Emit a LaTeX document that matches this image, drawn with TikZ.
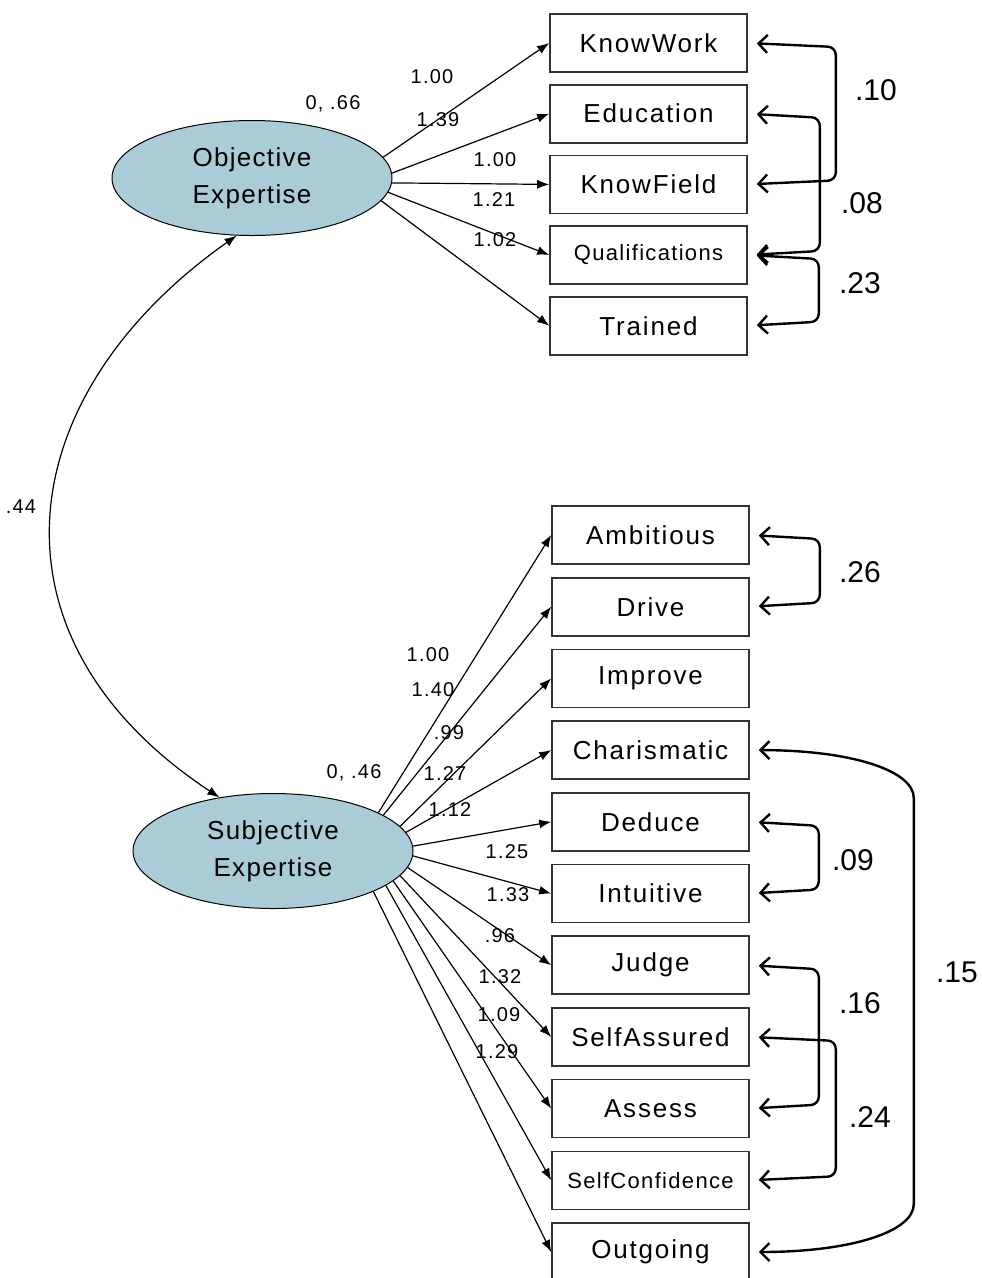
\documentclass[tikz,border=0pt]{standalone}
\usepackage{fontspec}
\setmainfont{Liberation Sans}
\usetikzlibrary{shapes.geometric,arrows.meta,calc}

\definecolor{latfill}{HTML}{A9CCD6}
\definecolor{boxline}{HTML}{333333}

\begin{document}
\begin{tikzpicture}[x=1pt,y=-1pt,
  latent/.style={ellipse, draw=black, line width=1pt, fill=latfill,
    minimum width=280pt, minimum height=115pt, inner sep=0pt, align=center,
    font=\fontsize{26}{37}\selectfont\addfontfeature{LetterSpace=5}},
  obs/.style={rectangle, draw=boxline, line width=1.6pt, fill=white,
    minimum width=197pt, minimum height=58pt, inner sep=0pt,
    font=\fontsize{26}{30}\selectfont\addfontfeature{LetterSpace=7}},
  smalltext/.style={font=\fontsize{22}{26}\selectfont\addfontfeature{LetterSpace=6}},
  load/.style={line width=1.2pt, -{Latex[length=12pt,width=9pt]}},
  cov/.style={line width=2.4pt, rounded corners=8pt,
    {Straight Barb[length=9pt,width=18pt]}-{Straight Barb[length=9pt,width=18pt]},
    shorten <=9pt, shorten >=9pt},
  coef/.style={font=\fontsize{20}{22}\selectfont\addfontfeature{LetterSpace=6}, inner sep=0pt},
  corr/.style={font=\fontsize{30}{32}\selectfont, inner sep=0pt}
]
\useasboundingbox[fill=white] (0,0) rectangle (982,1278);

% latent factors
\node[latent] (obj)  at (252,178) {Objective\\Expertise};
\node[latent] (subj) at (273,851) {Subjective\\Expertise};

% indicators of objective expertise
\node[obs] (KnowWork) at (648.5,43)   {KnowWork};
\node[obs] (Education) at (648.5,113.7) {Education};
\node[obs] (KnowField) at (648.5,184.4) {KnowField};
\node[obs,smalltext] (Qualifications) at (648.5,255) {Qualifications};
\node[obs] (Trained) at (648.5,325.7) {Trained};

% indicators of subjective expertise
\node[obs] (Ambitious)   at (650.5,535)    {Ambitious};
\node[obs] (Drive)       at (650.5,606.7)  {Drive};
\node[obs] (Improve)     at (650.5,678.4)  {Improve};
\node[obs] (Charismatic) at (650.5,750.1)  {Charismatic};
\node[obs] (Deduce)      at (650.5,821.8)  {Deduce};
\node[obs] (Intuitive)   at (650.5,893.5)  {Intuitive};
\node[obs] (Judge)       at (650.5,965.2)  {Judge};
\node[obs] (SelfAssured) at (650.5,1036.9) {SelfAssured};
\node[obs] (Assess)      at (650.5,1108.6) {Assess};
\node[obs,smalltext] (SelfConfidence) at (650.5,1180.3) {SelfConfidence};
\node[obs] (Outgoing)    at (650.5,1252)   {Outgoing};

% factor loadings
\draw[load] (obj.9)    -- (KnowWork.west);
\draw[load] (obj.2)    -- (Education.west);
\draw[load] (obj.-2.5) -- (KnowField.west);
\draw[load] (obj.-6)   -- (Qualifications.west);
\draw[load] (obj.-10)  -- (Trained.west);

\draw[load] (subj.20.5)  -- (Ambitious.west);
\draw[load] (subj.18.7)  -- (Drive.west);
\draw[load] (subj.11)    -- (Improve.west);
\draw[load] (subj.8)     -- (Charismatic.west);
\draw[load] (subj.2)     -- (Deduce.west);
\draw[load] (subj.-2.5)  -- (Intuitive.west);
\draw[load] (subj.-7.6)  -- (Judge.west);
\draw[load] (subj.-11)   -- (SelfAssured.west);
\draw[load] (subj.-14.5) -- (Assess.west);
\draw[load] (subj.-17.8) -- (SelfConfidence.west);
\draw[load] (subj.-22.3) -- (Outgoing.west);

% factor covariance
\draw[line width=1.2pt, {Latex[length=12pt,width=9pt]}-{Latex[length=12pt,width=9pt]}]
  (subj.135) .. controls (-22,638) and (9,396) .. (obj.-105);
\node[coef] (c44) at (21,507) {.44};

% loading and variance labels
\node[coef] (v66) at (333,104) {0, .66};
\node[coef] (l1) at (432,77)  {1.00};
\node[coef] (l2) at (438,120) {1.39};
\node[coef] (l3) at (495,160) {1.00};
\node[coef] (l4) at (494,200) {1.21};
\node[coef] (l5) at (495,240) {1.02};

\node[coef] (v46) at (354,773) {0, .46};
\node[coef] (m1)  at (428,655)  {1.00};
\node[coef] (m2)  at (433,690)  {1.40};
\node[coef] (m3)  at (449,733)  {.99};
\node[coef] (m4)  at (445,774)  {1.27};
\node[coef] (m5)  at (450,810)  {1.12};
\node[coef] (m6)  at (507,852)  {1.25};
\node[coef] (m7)  at (508,895)  {1.33};
\node[coef] (m8)  at (500,936)  {.96};
\node[coef] (m9)  at (500,977)  {1.32};
\node[coef] (m10) at (499,1015) {1.09};
\node[coef] (m11) at (497,1052) {1.29};

% residual covariances
\draw[cov] (KnowWork.east) -- ($(KnowWork.east)+(88,4)$) -- ($(KnowField.east)+(88,-4)$) -- (KnowField.east);
\node[corr] (r10) at (876,90) {.10};
\draw[cov] (Education.east) -- ($(Education.east)+(72,4)$) -- ($(Qualifications.east)+(72,-4)$) -- (Qualifications.east);
\node[corr] (r08) at (862,203) {.08};
\draw[cov] (Qualifications.east) -- ($(Qualifications.east)+(71,4)$) -- ($(Trained.east)+(71,-4)$) -- (Trained.east);
\node[corr] (r23) at (860,283) {.23};

\draw[cov] (Ambitious.east) -- ($(Ambitious.east)+(70,4)$) -- ($(Drive.east)+(70,-4)$) -- (Drive.east);
\node[corr] (r26) at (860,572) {.26};
\draw[cov] (Deduce.east) -- ($(Deduce.east)+(69,4)$) -- ($(Intuitive.east)+(69,-4)$) -- (Intuitive.east);
\node[corr] (r09) at (853,860) {.09};
\draw[cov] (Judge.east) -- ($(Judge.east)+(69,4)$) -- ($(Assess.east)+(69,-4)$) -- (Assess.east);
\node[corr] (r16) at (860,1003) {.16};
\draw[cov] (SelfAssured.east) -- ($(SelfAssured.east)+(86,4)$) -- ($(SelfConfidence.east)+(86,-4)$) -- (SelfConfidence.east);
\node[corr] (r24) at (870,1117) {.24};
\draw[cov, rounded corners=0pt] (Charismatic.east)
  .. controls ($(Charismatic.east)+(100,0)$) and ($(Charismatic.east)+(164,20)$) .. ($(Charismatic.east)+(164,48)$)
  -- ($(Outgoing.east)+(164,-48)$)
  .. controls ($(Outgoing.east)+(164,-20)$) and ($(Outgoing.east)+(100,0)$) .. (Outgoing.east);
\node[corr] (r15) at (957,972) {.15};
\end{tikzpicture}
\end{document}
